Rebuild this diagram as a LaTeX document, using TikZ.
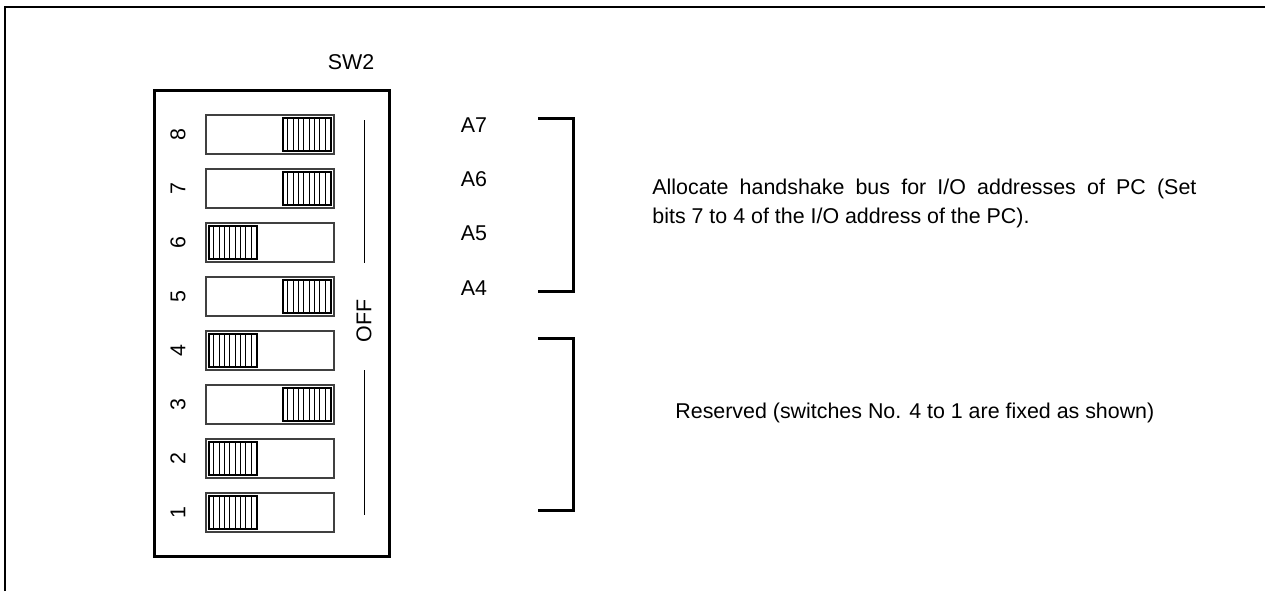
\documentclass[tikz,border=0pt]{standalone}
\usepackage{fontspec}
\setmainfont{Liberation Sans}
\usetikzlibrary{positioning}

\begin{document}
\begin{tikzpicture}[
    x=0.5pt, y=-0.5pt,
    font=\fontsize{10.7}{14.75}\selectfont,
    housing/.style={
        draw, line width=1.5pt, inner sep=0pt,
        minimum width=117.5pt, minimum height=233pt
    },
    switchbox/.style={
        draw=black!75, line width=0.6pt, inner sep=0pt,
        minimum width=64pt, minimum height=19.5pt
    },
    knob/.style={
        draw, line width=0.6pt, inner sep=0pt,
        minimum width=24pt, minimum height=16.5pt
    },
    hatch/.style={line width=0.4pt},
    numlbl/.style={rotate=90, inner sep=0pt},
    marker/.style={line width=0.5pt},
    bracket/.style={line width=1.5pt},
    note/.style={anchor=base west, inner sep=0pt}
]
\useasboundingbox (0,0) rectangle (1265,591);

% Outer frame (only top and left edges show)
\draw[line width=1pt] (5,591) -- (5,7) -- (1265,7);

% DIP switch housing
\node[housing] (dip) at (271.5,323) {};
\node (title) at (351,62) {SW2};

% Switches: number / knob centre (233 = left, 307 = right)
\foreach \n/\kx in {8/307, 7/307, 6/233, 5/307, 4/233, 3/307, 2/233, 1/233} {
    \pgfmathsetmacro\yc{134.5+(8-\n)*54}
    \node[switchbox] (sw\n) at (270,\yc) {};
    \node[knob] (knob\n) at (\kx,\yc) {};
    \foreach \i in {1,...,8}
        \draw[hatch] ([xshift=\i*2.667pt]knob\n.north west) -- ([xshift=\i*2.667pt]knob\n.south west);
    \node[numlbl] (num\n) at (178,\yc) {\n};
}

% OFF marker
\node[numlbl] (off) at (364,321) {OFF};
\coordinate (offtop) at (364,120);
\coordinate (offbot) at (364,515);
\draw[marker] (offtop) -- (364,263);
\draw[marker] (364,370) -- (offbot);

% Address bits
\node (a7) at (474,125) {A7};
\node (a6) at (474,179) {A6};
\node (a5) at (474,233) {A5};
\node (a4) at (474,288) {A4};

% Brackets
\coordinate (addrtop) at (538,118);
\coordinate (addrbot) at (538,291);
\draw[bracket] (addrtop) -- ++(35,0) |- (addrbot);

\coordinate (restop) at (538,338);
\coordinate (resbot) at (538,510);
\draw[bracket] (restop) -- ++(35,0) |- (resbot);

% Descriptions
\node[note, text width=272pt, align=justify] (addrnote) at (652,194)
    {Allocate handshake bus for I/O addresses of PC (Set\linebreak bits 7 to 4 of the I/O address of the PC).};
\node[note] (resnote) at (675,418)
    {Reserved (switches No. 4 to 1 are fixed as shown)};

\end{tikzpicture}
\end{document}
